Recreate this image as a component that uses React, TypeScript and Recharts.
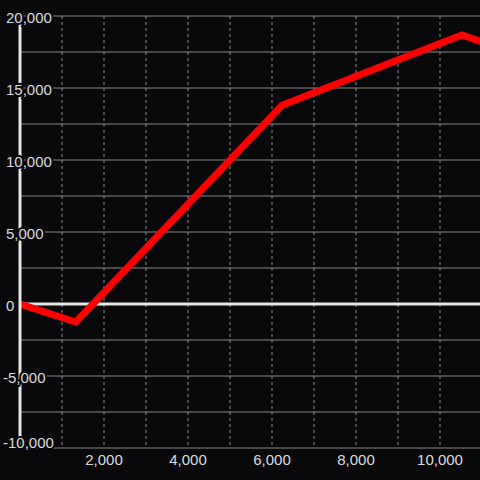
import React from 'react';
import { LineChart, Line, XAxis, YAxis, CartesianGrid, ReferenceLine } from 'recharts';

const xValues = [0, 1330, 6240, 10520, 11000];
const yValues = [0, -1250, 13800, 18680, 18200];
const xTicks = [2000, 4000, 6000, 8000, 10000];
const xGridLines = [1000, 2000, 3000, 4000, 5000, 6000, 7000, 8000, 9000, 10000];
const yTicks = [-10000, -5000, 0, 5000, 10000, 15000, 20000];
const yGridLines = [-10000, -7500, -5000, -2500, 0, 2500, 5000, 7500, 10000, 12500, 15000, 17500, 20000];
const xDomain = [0, 10952];
const yDomain = [-10000, 20000];

const data = xValues.map((x, i) => ({ x, y: yValues[i] }));

const BG = '#09080b';
const TEXT = '#dcdcdc';
const FONT = '"Liberation Sans", Arial, sans-serif';
const fmt = (v: number) => v.toLocaleString('en-US');

const YTick = (props: any) => {
  const { y, payload } = props;
  const v = payload.value as number;
  const isBottom = v === yTicks[0];
  return (
    <text
      x={v < 0 ? 3 : 6}
      y={y + (isBottom ? -6 : 1)}
      textAnchor="start"
      dominantBaseline="central"
      fill={TEXT}
      stroke={BG}
      strokeWidth={4}
      paintOrder="stroke"
      fontSize={15}
      fontFamily={FONT}
    >
      {fmt(v)}
    </text>
  );
};

const XTick = (props: any) => {
  const { x, y, payload } = props;
  return (
    <text x={x} y={y} dy="0.71em" textAnchor="middle" fill={TEXT} fontSize={15} fontFamily={FONT}>
      {fmt(payload.value)}
    </text>
  );
};

export default function App() {
  return (
    <div style={{ position: 'absolute', left: 0, top: 0, width: 480, height: 480, background: BG }}>
      <LineChart width={480} height={480} data={data} margin={{ top: 16, right: 0, bottom: 0, left: 0 }}>
        <CartesianGrid vertical={false} horizontalValues={yGridLines} stroke="#8a8a8a" />
        <CartesianGrid horizontal={false} verticalValues={xGridLines} stroke="#8a8a8a" strokeDasharray="3 3" />
        <ReferenceLine y={0} stroke="#e6e6e6" strokeWidth={3} />
        <XAxis
          dataKey="x"
          type="number"
          domain={xDomain}
          allowDataOverflow
          ticks={xTicks}
          interval={0}
          height={32}
          axisLine={false}
          tickLine={false}
          tickSize={6}
          tickMargin={0}
          tick={<XTick />}
        />
        <YAxis
          type="number"
          domain={yDomain}
          ticks={yTicks}
          interval={0}
          width={20}
          axisLine={{ stroke: '#e6e6e6', strokeWidth: 3 }}
          tickLine={false}
          tick={<YTick />}
        />
        <Line
          type="linear"
          dataKey="y"
          stroke="#ff0000"
          strokeWidth={7}
          dot={false}
          activeDot={false}
          isAnimationActive={false}
        />
      </LineChart>
    </div>
  );
}
